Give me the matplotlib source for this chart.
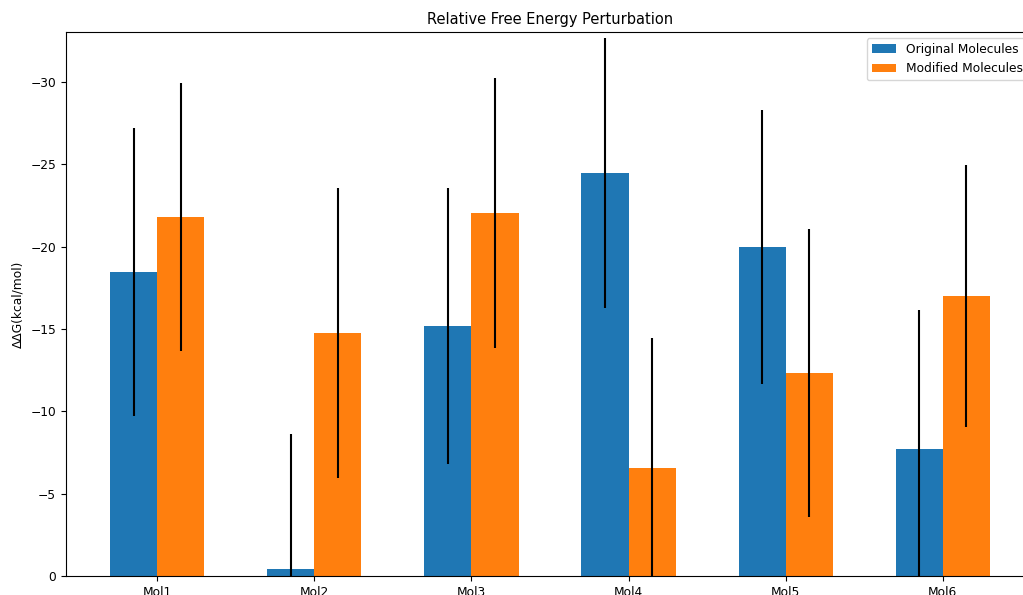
import numpy as np
import matplotlib
matplotlib.use("Agg")
import matplotlib.pyplot as plt

molecules = ['Mol1', 'Mol2', 'Mol3', 'Mol4', 'Mol5', 'Mol6']
original = [-18.45, -0.43, -15.18, -24.47, -19.98, -7.71]
original_err = [8.75, 8.2, 8.4, 8.2, 8.3, 8.44]
modified = [-21.8, -14.75, -22.04, -6.56, -12.33, -17.0]
modified_err = [8.15, 8.8, 8.2, 7.9, 8.75, 7.95]

plt.rcParams['font.size'] = 8.8

width = 0.3
x = np.arange(len(molecules))

fig = plt.figure(figsize=(10.23, 5.95), dpi=100)
# the axes run a little past the right edge, as in the reference
ax = fig.add_axes([66 / 1023, 19 / 595, 968 / 1023, 544 / 595])

ax.bar(x - width / 2, original, width, yerr=original_err, label='Original Molecules')
ax.bar(x + width / 2, modified, width, yerr=modified_err, label='Modified Molecules')

ax.set_xticks(x)
ax.set_xticklabels(molecules)
ax.set_ylim(0, -33.03)
ax.set_ylabel('ΔΔG(kcal/mol)')
ax.set_title('Relative Free Energy Perturbation', fontsize=10.5)
ax.legend(loc='upper right')

fig.savefig('out.png', dpi=100)
